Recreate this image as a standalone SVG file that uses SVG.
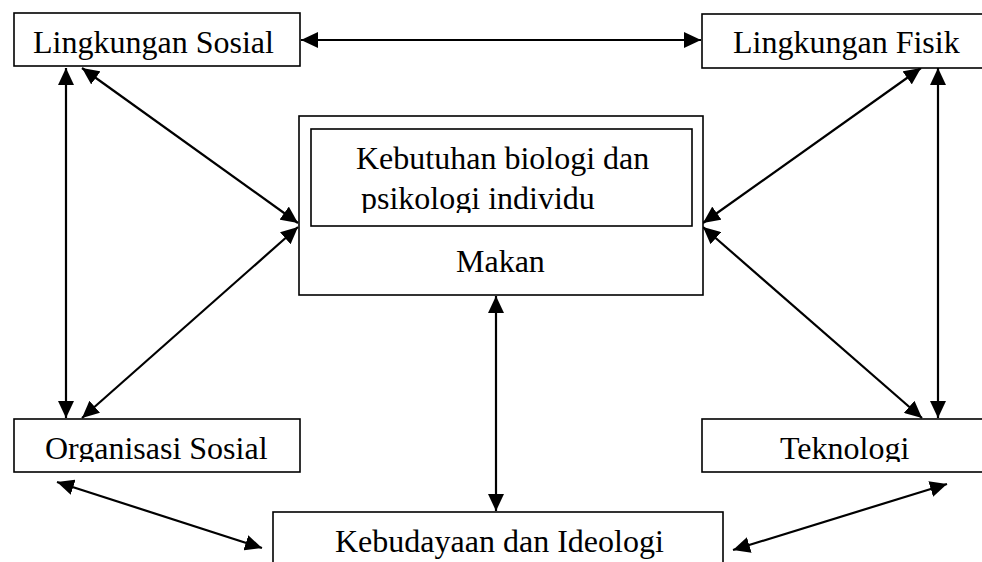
<svg xmlns="http://www.w3.org/2000/svg" width="982" height="562" viewBox="0 0 982 562">
<style>
.box{fill:#fff;stroke:#000;stroke-width:1.6}
.t{font-family:"Liberation Serif","Times New Roman",serif;font-size:32px;fill:#000}
.c{stroke:#000;stroke-width:2.2;fill:none;marker-start:url(#ah);marker-end:url(#ah)}
</style>
<defs>
<marker id="ah" markerUnits="userSpaceOnUse" markerWidth="17" markerHeight="16" viewBox="0 0 17 16" refX="17" refY="8" orient="auto-start-reverse">
<path d="M0,0 L17,8 L0,16 Z" fill="#000"/>
</marker>
<clipPath id="cp1"><rect x="300" y="120" width="400" height="93"/></clipPath>
<clipPath id="cp2"><rect x="0" y="419" width="982" height="43"/></clipPath>
</defs>
<rect width="982" height="562" fill="#fff"/>
<g id="connectors">
<line class="c" x1="301" y1="40" x2="701" y2="40"/>
<line class="c" x1="66" y1="68" x2="66" y2="418"/>
<line class="c" x1="82" y1="68" x2="298" y2="223"/>
<line class="c" x1="298" y1="227" x2="82" y2="418"/>
<line class="c" x1="921" y1="68" x2="703" y2="223"/>
<line class="c" x1="703" y1="227" x2="922" y2="418"/>
<line class="c" x1="938" y1="68" x2="938" y2="418"/>
<line class="c" x1="496" y1="296" x2="496" y2="511"/>
<line class="c" x1="57" y1="482" x2="262" y2="548"/>
<line class="c" x1="947" y1="484" x2="733" y2="550"/>
</g>
<g id="lingkungan-sosial">
<rect class="box" x="14" y="13" width="286" height="53"/>
<text class="t" x="33" y="53">Lingkungan Sosial</text>
</g>
<g id="lingkungan-fisik">
<rect class="box" x="702" y="14" width="290" height="54"/>
<text class="t" x="733" y="53">Lingkungan Fisik</text>
</g>
<g id="makan">
<rect class="box" x="299" y="116" width="404" height="179"/>
<rect class="box" x="311" y="129" width="381" height="97"/>
<text class="t" x="356" y="169">Kebutuhan biologi dan</text>
<g clip-path="url(#cp1)"><text class="t" x="361" y="209">psikologi individu</text></g>
<text class="t" x="456" y="272">Makan</text>
</g>
<g id="organisasi-sosial">
<rect class="box" x="14" y="419" width="286" height="53"/>
<g clip-path="url(#cp2)"><text class="t" x="45" y="459">Organisasi Sosial</text></g>
</g>
<g id="teknologi">
<rect class="box" x="702" y="419" width="290" height="53"/>
<g clip-path="url(#cp2)"><text class="t" x="780" y="459">Teknologi</text></g>
</g>
<g id="kebudayaan">
<rect class="box" x="273" y="512" width="450" height="60"/>
<text class="t" x="335" y="552">Kebudayaan dan Ideologi</text>
</g>
</svg>
